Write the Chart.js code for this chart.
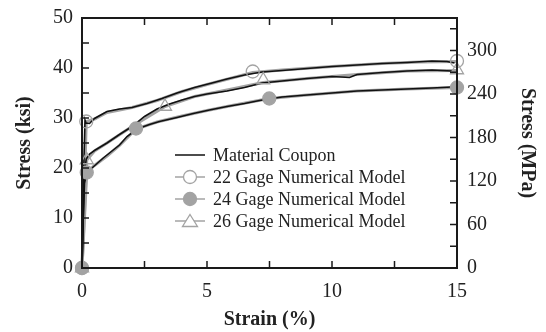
<!DOCTYPE html>
<html lang="en">
<head>
<meta charset="UTF-8">
<title>Stress-Strain Curves</title>
<script src="https://cdn.jsdelivr.net/npm/chart.js"></script>
<style>
  body { margin: 0; background: #fff; }
  canvas { display: block; }
</style>
</head>
<body>
<canvas id="myChart" width="546" height="332"></canvas>
<script>
const KSI_TO_MPA = 6.894757;
const SERIF = "'Liberation Serif', 'Times New Roman', serif";

// Axis tick labels
const strainLabels = [0, 5, 10, 15];
const ksiLabels = [0, 10, 20, 30, 40, 50];
const mpaLabels = [0, 60, 120, 180, 240, 300];
// Tick marks (drawn inside the frame)
const strainTicks = [2.5, 5, 7.5, 10, 12.5];
const ksiTicks = [5, 10, 15, 20, 25, 30, 35, 40, 45];
const mpaTicks = [30, 60, 90, 120, 150, 180, 210, 240, 270, 300, 330];

// Material coupons: strain (%) / stress (ksi)
const coupon22Strain = [0, 0.04, 0.08, 0.12, 0.16, 0.3, 0.5, 1.0, 1.5, 2.0, 2.6, 3.2, 3.8, 4.5, 5.2, 5.8, 6.5, 7.2, 8.0, 9.0, 10.0, 11.0, 12.0, 13.0, 14.0, 14.6, 14.9];
const coupon22Stress = [0, 10, 22, 29.6, 29.0, 28.9, 29.9, 31.3, 31.8, 32.1, 32.9, 33.9, 35.0, 36.1, 37.0, 37.8, 38.6, 39.2, 39.5, 39.9, 40.3, 40.6, 40.9, 41.1, 41.4, 41.3, 41.0];

const coupon24Strain = [0, 0.05, 0.1, 0.2, 0.4, 0.85, 1.5, 1.8, 2.2, 2.7, 3.1, 3.8, 4.45, 5.1, 5.8, 6.5, 7.1, 8.0, 9.0, 10.0, 11.0, 12.0, 13.0, 14.0, 14.8];
const coupon24Stress = [0, 10, 17, 19.2, 20.0, 22.0, 24.6, 26.3, 27.8, 28.7, 29.3, 30.1, 30.9, 31.6, 32.3, 32.9, 33.5, 34.2, 34.6, 35.0, 35.4, 35.6, 35.8, 36.0, 36.2];

const coupon26Strain = [0, 0.05, 0.1, 0.17, 0.3, 0.5, 1.0, 1.5, 2.0, 2.5, 3.0, 3.5, 4.0, 4.5, 5.0, 5.8, 6.5, 7.2, 8.0, 9.0, 10.0, 10.7, 11.0, 12.0, 13.0, 14.0, 14.8];
const coupon26Stress = [0, 10, 19, 21.8, 22.8, 23.5, 25.0, 26.7, 28.3, 30.3, 31.8, 32.8, 33.6, 34.3, 34.8, 35.4, 36.1, 37.0, 37.4, 37.9, 38.3, 38.1, 38.7, 39.1, 39.4, 39.6, 39.4];

// Numerical models: curve points and marker points
const model22Strain = [0, 0.17, 0.5, 1, 2, 3, 4, 5, 6.83, 8, 10, 12, 13.5, 15];
const model22Stress = [0, 29.3, 29.8, 31.1, 32.1, 33.5, 35.3, 36.7, 39.1, 39.6, 40.3, 40.9, 41.2, 41.3];
const mark22Strain = [0, 0.17, 6.83, 15];
const mark22Stress = [0, 29.3, 39.3, 41.4];

const model24Strain = [0, 0.19, 0.5, 1, 1.5, 2.16, 3, 4, 5, 6, 7.49, 9, 11, 13, 15];
const model24Stress = [0, 19.1, 20.5, 22.4, 24.5, 27.8, 29.2, 30.4, 31.5, 32.5, 33.9, 34.6, 35.4, 35.8, 36.1];
const mark24Strain = [0, 0.19, 2.16, 7.49, 15];
const mark24Stress = [0, 19.1, 27.9, 33.9, 36.1];

const model26Strain = [0, 0.19, 0.5, 1, 2, 3.32, 4.5, 6, 7.25, 9, 11, 13, 15];
const model26Stress = [0, 21.6, 23.4, 25.0, 28.3, 32.3, 34.3, 35.8, 37.1, 37.9, 38.7, 39.4, 39.5];
const mark26Strain = [0, 0.19, 3.32, 7.25, 15];
const mark26Stress = [0, 21.6, 32.3, 37.6, 39.6];

const legendLabels = ['Material Coupon', '22 Gage Numerical Model', '24 Gage Numerical Model', '26 Gage Numerical Model'];

const GRAY = '#a3a3a3';

function pts(xs, ys) {
    return xs.map((x, i) => ({ x: x, y: ys[i] }));
}

function couponSet(xs, ys) {
    return { data: pts(xs, ys), borderColor: '#111', borderWidth: 1.6, pointRadius: 0, tension: 0, order: 1, clip: false };
}
function modelSet(xs, ys) {
    return { data: pts(xs, ys), borderColor: GRAY, borderWidth: 3, pointRadius: 0, tension: 0, order: 2, clip: false };
}
function markerSet(xs, ys, style, filled) {
    return {
        data: pts(xs, ys), showLine: false, order: 0, clip: false,
        pointStyle: style, pointRadius: style === 'triangle' ? 7.5 : 6.5,
        pointBorderColor: GRAY, pointBorderWidth: 1.3,
        pointBackgroundColor: filled ? GRAY : 'rgba(0,0,0,0)'
    };
}

// Frame and inward tick marks
const frameTicks = {
    id: 'frameTicks',
    afterDatasetsDraw(chart) {
        const { ctx, chartArea: a, scales } = chart;
        const len = 7;
        ctx.save();
        ctx.strokeStyle = '#1a1a1a';
        ctx.lineWidth = 2;
        ctx.beginPath();
        ctx.moveTo(a.left, a.top);
        ctx.lineTo(a.right, a.top);
        ctx.lineTo(a.right, a.bottom);
        ctx.lineTo(a.left, a.bottom);
        ctx.closePath();
        ctx.stroke();

        ctx.lineWidth = 1.5;
        ctx.beginPath();
        strainTicks.forEach(v => {
            const x = scales.x.getPixelForValue(v);
            ctx.moveTo(x, a.bottom); ctx.lineTo(x, a.bottom - len);
            ctx.moveTo(x, a.top); ctx.lineTo(x, a.top + len);
        });
        ksiTicks.forEach(v => {
            const y = scales.y.getPixelForValue(v);
            ctx.moveTo(a.left, y); ctx.lineTo(a.left + len, y);
        });
        mpaTicks.forEach(v => {
            const y = scales.y2.getPixelForValue(v);
            ctx.moveTo(a.right, y); ctx.lineTo(a.right - len, y);
        });
        ctx.stroke();
        ctx.restore();
    }
};

// Legend inside the plot
const innerLegend = {
    id: 'innerLegend',
    afterDraw(chart) {
        const { ctx, chartArea: a } = chart;
        const x0 = a.left + 93, x1 = a.left + 123, tx = a.left + 131;
        const y0 = a.top + 137, dy = 22;
        ctx.save();
        ctx.font = '18px ' + SERIF;
        ctx.textBaseline = 'middle';
        legendLabels.forEach((label, i) => {
            const y = y0 + i * dy;
            ctx.beginPath();
            ctx.strokeStyle = i === 0 ? '#111' : GRAY;
            ctx.lineWidth = 1.5;
            ctx.moveTo(x0, y); ctx.lineTo(x1, y);
            ctx.stroke();
            const cx = (x0 + x1) / 2;
            ctx.lineWidth = 1.3;
            if (i === 1 || i === 2) {
                ctx.beginPath();
                ctx.arc(cx, y, 6.5, 0, Math.PI * 2);
                ctx.fillStyle = i === 2 ? GRAY : '#fff';
                ctx.fill();
                ctx.stroke();
            } else if (i === 3) {
                ctx.beginPath();
                ctx.moveTo(cx, y - 6.5);
                ctx.lineTo(cx + 7.5, y + 5.5);
                ctx.lineTo(cx - 7.5, y + 5.5);
                ctx.closePath();
                ctx.fillStyle = '#fff';
                ctx.fill();
                ctx.stroke();
            }
            ctx.fillStyle = '#222';
            ctx.fillText(label, tx, y + 1);
        });
        ctx.restore();
    }
};

const tickFont = { family: SERIF, size: 20 };
const sideTickFont = { family: SERIF, size: 20, lineHeight: 0.8 };
const titleFont = { family: SERIF, size: 20, weight: 'bold' };

new Chart(document.getElementById('myChart'), {
    type: 'line',
    data: {
        datasets: [
            markerSet(mark22Strain, mark22Stress, 'circle', false),
            markerSet(mark24Strain, mark24Stress, 'circle', true),
            markerSet(mark26Strain, mark26Stress, 'triangle', false),
            couponSet(coupon22Strain, coupon22Stress),
            couponSet(coupon24Strain, coupon24Stress),
            couponSet(coupon26Strain, coupon26Stress),
            modelSet(model22Strain, model22Stress),
            modelSet(model24Strain, model24Stress),
            modelSet(model26Strain, model26Stress)
        ]
    },
    options: {
        responsive: false,
        animation: false,
        devicePixelRatio: 1,
        layout: { padding: { top: 14, left: 0, right: 0, bottom: 0 } },
        plugins: { legend: { display: false }, tooltip: { enabled: false } },
        scales: {
            x: {
                type: 'linear', position: 'bottom', min: 0, max: 15,
                grid: { display: false, drawTicks: false }, border: { display: false },
                ticks: { font: tickFont, color: '#222', padding: 12, maxRotation: 0 },
                afterBuildTicks: s => { s.ticks = strainLabels.map(v => ({ value: v })); },
                afterFit: s => { s.height = 64; },
                title: { display: true, text: 'Strain (%)', font: titleFont, color: '#222', padding: { top: 0, bottom: 0 } }
            },
            y: {
                type: 'linear', position: 'left', min: 0, max: 50,
                grid: { display: false, drawTicks: false }, border: { display: false },
                ticks: { font: sideTickFont, color: '#222', padding: 9 },
                afterBuildTicks: s => { s.ticks = ksiLabels.map(v => ({ value: v })); },
                afterFit: s => { s.width = 82; },
                title: { display: true, text: 'Stress (ksi)', font: titleFont, color: '#222', padding: { top: 13, bottom: 0 } }
            },
            y2: {
                type: 'linear', position: 'right', min: 0, max: 50 * KSI_TO_MPA,
                grid: { display: false, drawTicks: false }, border: { display: false },
                ticks: { font: sideTickFont, color: '#222', padding: 10 },
                afterBuildTicks: s => { s.ticks = mpaLabels.map(v => ({ value: v })); },
                afterFit: s => { s.width = 89; },
                title: { display: true, text: 'Stress (MPa)', font: titleFont, color: '#222', padding: { top: 7, bottom: 0 } }
            }
        }
    },
    plugins: [frameTicks, innerLegend]
});
</script>
</body>
</html>
